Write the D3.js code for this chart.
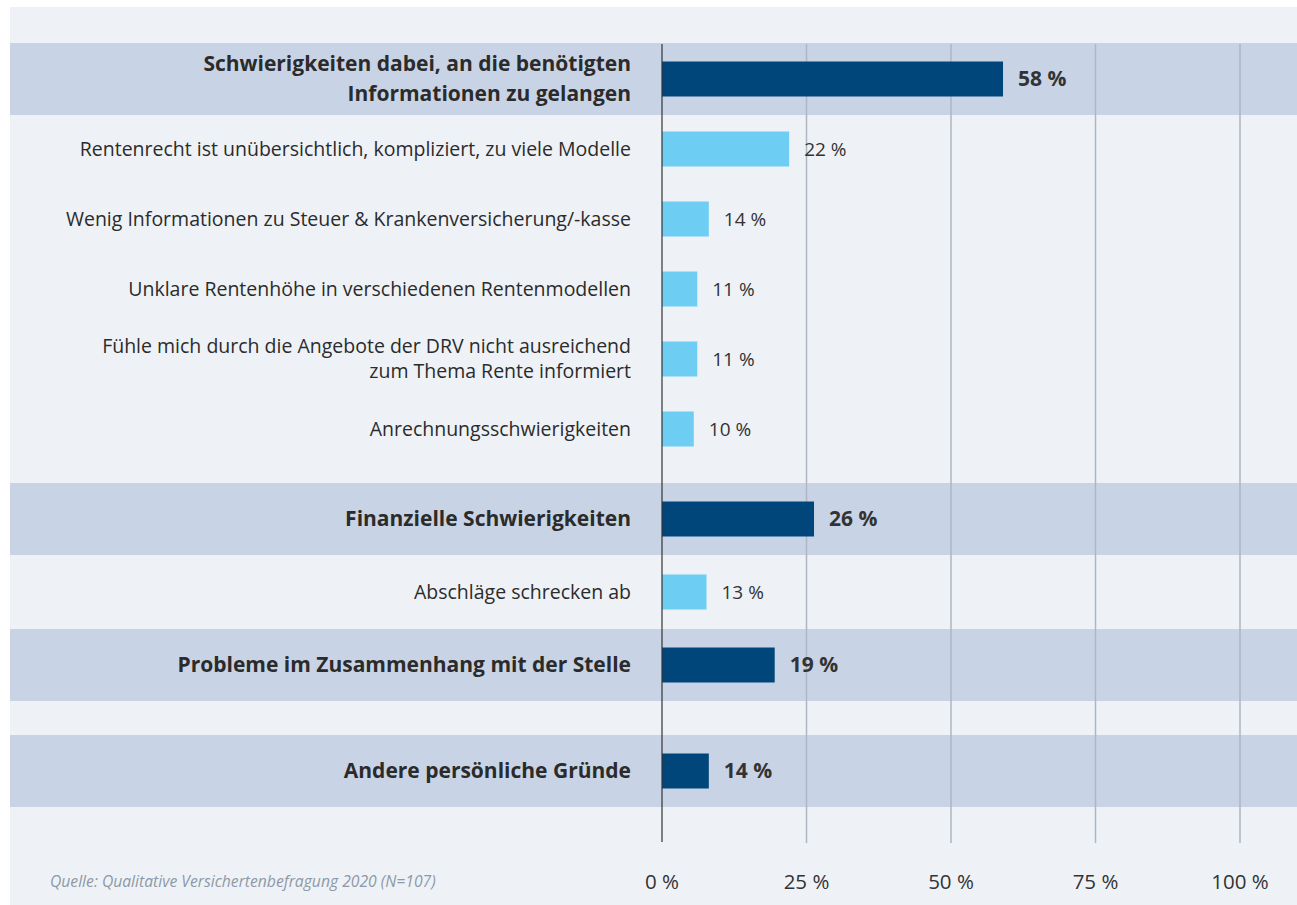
<!DOCTYPE html>
<html>
<head>
<meta charset="utf-8">
<script src="https://cdn.jsdelivr.net/npm/d3@7"></script>
<style>
  body { margin: 0; background: #fff; }
  svg text { font-family: "Open Sans", sans-serif; }
</style>
</head>
<body>
<svg id="chart" width="1297" height="905"></svg>
<script>
// ---------- data ---------- //

var categories = [
    "Schwierigkeiten dabei, an die benötigten\nInformationen zu gelangen",
    "Rentenrecht ist unübersichtlich, kompliziert, zu viele Modelle",
    "Wenig Informationen zu Steuer & Krankenversicherung/-kasse",
    "Unklare Rentenhöhe in verschiedenen Rentenmodellen",
    "Fühle mich durch die Angebote der DRV nicht ausreichend\nzum Thema Rente informiert",
    "Anrechnungsschwierigkeiten",
    "Finanzielle Schwierigkeiten",
    "Abschläge schrecken ab",
    "Probleme im Zusammenhang mit der Stelle",
    "Andere persönliche Gründe"
];

// printed percentages
var values = [58, 22, 14, 11, 11, 10, 26, 13, 19, 14];

// bar lengths as drawn in the source graphic (they do not always match the printed value)
var barLengths = [59, 22, 8.1, 6.1, 6.1, 5.5, 26.3, 7.7, 19.5, 8.1];

// main reason = 1, sub reason = 0
var isMain = [1, 0, 0, 0, 0, 0, 1, 0, 1, 1];

var ticks = [0, 25, 50, 75, 100];

var source = "Quelle: Qualitative Versichertenbefragung 2020 (N=107)";

// ---------- layout ---------- //

var rowStep = 70,
    firstRow = 79,
    gapBefore = [0, 0, 0, 0, 0, 0, 20, 3, 3, 36],
    bandH = 72,
    barH = 35;

var rowY = [];
categories.forEach(function(c, i){
    rowY.push(i == 0 ? firstRow : rowY[i-1] + rowStep + gapBefore[i]);
});

var x = d3.scaleLinear().domain([0, 100]).range([662, 1240]);

var svg = d3.select("#chart");

svg.append("rect")
    .attr("x", 10)
    .attr("y", 7)
    .attr("width", 1287)
    .attr("height", 898)
    .attr("fill", "#eef2f7");

// highlighted bands for main reasons
svg.selectAll("rect.band")
    .data(categories.map(function(c, i){ return i; }).filter(function(i){ return isMain[i]; }))
    .enter().append("rect")
    .attr("class", "band")
    .attr("x", 10)
    .attr("y", function(i){ return rowY[i] - bandH/2; })
    .attr("width", 1287)
    .attr("height", bandH)
    .attr("fill", "#c8d4e5");

// gridlines
svg.selectAll("line.grid")
    .data(ticks.slice(1))
    .enter().append("line")
    .attr("class", "grid")
    .attr("x1", function(d){ return x(d); })
    .attr("x2", function(d){ return x(d); })
    .attr("y1", 44)
    .attr("y2", 843)
    .attr("stroke", "#adb6c2")
    .attr("stroke-width", 1.5);

// bars
svg.selectAll("rect.bar")
    .data(barLengths)
    .enter().append("rect")
    .attr("class", "bar")
    .attr("x", x(0))
    .attr("y", function(d, i){ return rowY[i] - barH/2; })
    .attr("width", function(d){ return x(d) - x(0); })
    .attr("height", barH)
    .attr("fill", function(d, i){ return isMain[i] ? "#00467a" : "#6dcdf3"; });

// axis line
svg.append("line")
    .attr("x1", x(0))
    .attr("x2", x(0))
    .attr("y1", 44)
    .attr("y2", 842)
    .attr("stroke", "#333")
    .attr("stroke-width", 1.2);

// category labels
var labels = svg.selectAll("text.cat")
    .data(categories)
    .enter().append("text")
    .attr("class", "cat")
    .attr("text-anchor", "end")
    .attr("fill", "#2b2b2b")
    .attr("font-size", function(d, i){ return isMain[i] ? 21 : 19.5; })
    .attr("font-weight", function(d, i){ return isMain[i] ? "bold" : "normal"; });

labels.each(function(d, i){
    var lines = d.split("\n"),
        lh = isMain[i] ? 30 : 25,
        top = rowY[i] - (lines.length - 1) * lh / 2;
    var t = d3.select(this);
    lines.forEach(function(l, k){
        t.append("tspan")
            .attr("x", 631)
            .attr("y", top + k*lh)
            .attr("dy", "0.35em")
            .text(l);
    });
});

// value labels
svg.selectAll("text.val")
    .data(values)
    .enter().append("text")
    .attr("class", "val")
    .attr("x", function(d, i){ return x(barLengths[i]) + 15; })
    .attr("y", function(d, i){ return rowY[i]; })
    .attr("dy", "0.35em")
    .attr("fill", "#333")
    .attr("font-size", function(d, i){ return isMain[i] ? 21 : 19; })
    .attr("font-weight", function(d, i){ return isMain[i] ? "bold" : "normal"; })
    .text(function(d){ return d + " %"; });

// x axis labels
svg.selectAll("text.tick")
    .data(ticks)
    .enter().append("text")
    .attr("class", "tick")
    .attr("x", function(d){ return x(d); })
    .attr("y", 882)
    .attr("dy", "0.35em")
    .attr("text-anchor", "middle")
    .attr("font-size", 20.5)
    .attr("fill", "#333")
    .text(function(d){ return d + " %"; });

svg.append("text")
    .attr("x", 50)
    .attr("y", 882)
    .attr("dy", "0.35em")
    .attr("font-size", 15.7)
    .attr("font-style", "italic")
    .attr("fill", "#8d99a6")
    .text(source);
</script>
</body>
</html>
